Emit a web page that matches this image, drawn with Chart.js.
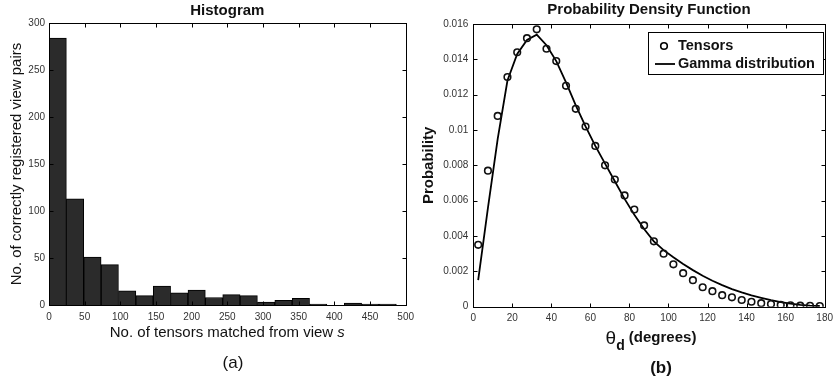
<!DOCTYPE html>
<html lang="en">
<head>
    <meta charset="UTF-8">
    <title>Histogram and PDF</title>
    <script src="https://cdn.jsdelivr.net/npm/chart.js@4.4.0/dist/chart.umd.min.js"></script>
    <style>
        html, body { margin: 0; padding: 0; background: #fff; }
        .wrap { position: relative; width: 839px; height: 385px; overflow: hidden; }
        .panel { position: absolute; top: 0; }
    </style>
</head>
<body>
    <div class="wrap">
        <div class="panel" style="left:0"><canvas id="histChart" width="420" height="385"></canvas></div>
        <div class="panel" style="left:420px"><canvas id="pdfChart" width="419" height="385"></canvas></div>
    </div>

    <script>
        // histogram (a): 20 bins over 0..487
        const binCenters = [12.2, 36.5, 60.9, 85.2, 109.6, 133.9, 158.3, 182.6, 207.0, 231.3,
                            255.7, 280.0, 304.4, 328.7, 353.1, 377.4, 401.8, 426.1, 450.5, 474.8];
        const binCounts = [284, 113, 51, 43, 15, 10, 20, 13, 16, 8,
                           11, 10, 3, 5, 7, 1, 0, 2, 1, 1];

        // pdf (b)
        const angles = [2.5, 7.5, 12.5, 17.5, 22.5, 27.5, 32.5, 37.5, 42.5, 47.5, 52.5, 57.5,
                        62.5, 67.5, 72.5, 77.5, 82.5, 87.5, 92.5, 97.5, 102.5, 107.5, 112.5, 117.5,
                        122.5, 127.5, 132.5, 137.5, 142.5, 147.5, 152.5, 157.5, 162.5, 167.5, 172.5, 177.5];
        const tensorProb = [0.0035, 0.0077, 0.0108, 0.0130, 0.0144, 0.0152, 0.0157, 0.0146, 0.0139, 0.0125, 0.0112, 0.0102,
                            0.0091, 0.0080, 0.0072, 0.0063, 0.0055, 0.0046, 0.0037, 0.0030, 0.0024, 0.0019, 0.0015, 0.0011,
                            0.00088, 0.00065, 0.00053, 0.00038, 0.00028, 0.0002, 0.00015, 0.0001, 0.00008, 0.00006, 0.00005, 0.00004];
        const gammaProb = [0.0015, 0.0056, 0.0095, 0.0128, 0.0143, 0.0151, 0.0154, 0.0148, 0.0139, 0.0127, 0.0114, 0.0102,
                           0.0091, 0.0081, 0.0071, 0.0061, 0.0052, 0.0044, 0.0037, 0.0032, 0.0028, 0.00242, 0.00207, 0.00175,
                           0.00147, 0.00122, 0.0010, 0.00081, 0.00064, 0.0005, 0.00037, 0.00026, 0.00017, 0.0001, 0.00006, 0.00004];

        const FONT = '"Liberation Sans", Arial, Helvetica, sans-serif';
        Chart.defaults.font.family = FONT;
        Chart.defaults.color = '#222';

        // matlab-like box with inward ticks
        const frame = {
            id: 'frame',
            afterDatasetsDraw(chart) {
                const {ctx, chartArea: a, scales: {x, y}} = chart;
                const L = Math.round(a.left) + 0.5, R = Math.round(a.right) + 0.5;
                const T = Math.round(a.top) + 0.5, B = Math.round(a.bottom) + 0.5;
                ctx.save();
                ctx.strokeStyle = '#000';
                ctx.lineWidth = 1;
                ctx.strokeRect(L, T, R - L, B - T);
                ctx.beginPath();
                x.ticks.forEach(t => {
                    const px = Math.round(x.getPixelForValue(t.value)) + 0.5;
                    ctx.moveTo(px, B); ctx.lineTo(px, B - 4);
                    ctx.moveTo(px, T); ctx.lineTo(px, T + 4);
                });
                y.ticks.forEach(t => {
                    const py = Math.round(y.getPixelForValue(t.value)) + 0.5;
                    ctx.moveTo(L, py); ctx.lineTo(L + 4, py);
                    ctx.moveTo(R, py); ctx.lineTo(R - 4, py);
                });
                ctx.stroke();
                ctx.restore();
            }
        };

        // panel captions (a) / (b)
        const caption = {
            id: 'caption',
            afterDraw(chart, args, opts) {
                const ctx = chart.ctx;
                ctx.save();
                ctx.fillStyle = '#111';
                ctx.textAlign = 'center';
                ctx.textBaseline = 'middle';
                ctx.font = opts.font + ' ' + FONT;
                ctx.fillText(opts.text, opts.x, opts.y);
                ctx.restore();
            }
        };

        const histXTitle = {
            id: 'histXTitle',
            afterDraw(chart) {
                const ctx = chart.ctx;
                const a = chart.chartArea;
                const t1 = 'No. of tensors matched from view ';
                ctx.save();
                ctx.fillStyle = '#111';
                ctx.textBaseline = 'middle';
                ctx.font = '15px ' + FONT;
                const w1 = ctx.measureText(t1).width;
                ctx.font = 'italic 15px ' + FONT;
                const w2 = ctx.measureText('s').width;
                const x0 = (a.left + a.right) / 2 - (w1 + w2) / 2;
                ctx.font = '15px ' + FONT;
                ctx.fillText(t1, x0, 333);
                ctx.font = 'italic 15px ' + FONT;
                ctx.fillText('s', x0 + w1, 333);
                ctx.restore();
            }
        };

        const pdfXTitle = {
            id: 'pdfXTitle',
            afterDraw(chart) {
                const ctx = chart.ctx;
                const a = chart.chartArea;
                ctx.save();
                ctx.fillStyle = '#111';
                ctx.textBaseline = 'middle';
                ctx.font = '19px ' + FONT;
                const wTh = ctx.measureText('θ').width;
                ctx.font = 'bold 14px ' + FONT;
                const wD = ctx.measureText('d').width;
                ctx.font = 'bold 15px ' + FONT;
                const wRest = ctx.measureText(' (degrees)').width;
                let x0 = (a.left + a.right) / 2 - (wTh + wD + wRest) / 2 + 2;
                ctx.font = '19px ' + FONT;
                ctx.fillText('θ', x0, 339);
                ctx.font = 'bold 14px ' + FONT;
                ctx.fillText('d', x0 + wTh, 346);
                ctx.font = 'bold 15px ' + FONT;
                ctx.fillText(' (degrees)', x0 + wTh + wD, 338);
                ctx.restore();
            }
        };

        const pdfLegend = {
            id: 'pdfLegend',
            afterDraw(chart) {
                const ctx = chart.ctx;
                ctx.save();
                ctx.fillStyle = '#fff';
                ctx.fillRect(228.5, 32.5, 175, 42);
                ctx.strokeStyle = '#000';
                ctx.lineWidth = 1;
                ctx.strokeRect(228.5, 32.5, 175, 42);
                ctx.lineWidth = 1.6;
                ctx.beginPath();
                ctx.arc(244, 46, 3.3, 0, Math.PI * 2);
                ctx.stroke();
                ctx.lineWidth = 1.8;
                ctx.beginPath();
                ctx.moveTo(235, 64); ctx.lineTo(255, 64);
                ctx.stroke();
                ctx.fillStyle = '#111';
                ctx.textBaseline = 'middle';
                ctx.font = 'bold 14.5px ' + FONT;
                ctx.fillText('Tensors', 258, 46);
                ctx.fillText('Gamma distribution', 258, 64);
                ctx.restore();
            }
        };

        const tickFont = {size: 10};

        new Chart('histChart', {
            type: 'bar',
            data: {
                datasets: [{
                    data: binCenters.map((c, i) => ({x: c, y: binCounts[i]})),
                    backgroundColor: '#2b2b2b',
                    borderColor: '#000',
                    borderWidth: 1,
                    barPercentage: 1,
                    categoryPercentage: 1
                }]
            },
            options: {
                responsive: false,
                animation: false,
                layout: {padding: {left: 0, right: 14, top: 0, bottom: 0}},
                plugins: {
                    legend: {display: false},
                    tooltip: {enabled: false},
                    title: {display: true, fullSize: false, text: 'Histogram', color: '#111',
                            font: {size: 15, weight: 'bold'}, padding: {top: 2, bottom: 3}},
                    caption: {text: '(a)', font: '17px', x: 233, y: 363}
                },
                scales: {
                    x: {
                        type: 'linear', min: 0, max: 500, offset: false,
                        afterFit(s) { s.height = 80; },
                        grid: {display: false, drawTicks: false, offset: false},
                        border: {display: false},
                        ticks: {stepSize: 50, autoSkip: false, maxRotation: 0, padding: 6, color: '#333', font: tickFont}
                    },
                    y: {
                        min: 0, max: 300,
                        afterFit(s) { s.width = 49; },
                        grid: {display: false, drawTicks: false},
                        border: {display: false},
                        ticks: {stepSize: 50, padding: 4, color: '#333', font: tickFont},
                        title: {display: true, text: 'No. of correctly registered view pairs', color: '#111',
                                font: {size: 15}, padding: {top: 8, bottom: 0}}
                    }
                }
            },
            plugins: [frame, histXTitle, caption]
        });

        new Chart('pdfChart', {
            type: 'scatter',
            data: {
                datasets: [{
                    label: 'Tensors',
                    data: angles.map((a, i) => ({x: a, y: tensorProb[i]})),
                    showLine: false,
                    pointStyle: 'circle',
                    pointRadius: 3.3,
                    pointBorderWidth: 1.6,
                    pointBorderColor: '#111',
                    pointBackgroundColor: 'rgba(0,0,0,0)'
                }, {
                    label: 'Gamma distribution',
                    data: angles.map((a, i) => ({x: a, y: gammaProb[i]})),
                    showLine: true,
                    borderColor: '#000',
                    borderWidth: 1.8,
                    pointRadius: 0,
                    tension: 0
                }]
            },
            options: {
                responsive: false,
                animation: false,
                layout: {padding: {left: 0, right: 11.7, top: 0, bottom: 0}},
                plugins: {
                    legend: {display: false},
                    tooltip: {enabled: false},
                    title: {display: true, fullSize: false, text: 'Probability Density Function', color: '#111',
                            font: {size: 15, weight: 'bold'}, padding: {top: 1, bottom: 5}},
                    caption: {text: '(b)', font: 'bold 17px', x: 241, y: 368}
                },
                scales: {
                    x: {
                        type: 'linear', min: 0, max: 180,
                        afterFit(s) { s.height = 78.3; },
                        grid: {display: false, drawTicks: false},
                        border: {display: false},
                        ticks: {stepSize: 20, autoSkip: false, maxRotation: 0, padding: 6, color: '#333', font: tickFont}
                    },
                    y: {
                        min: 0, max: 0.016,
                        afterFit(s) { s.width = 53.3; },
                        grid: {display: false, drawTicks: false},
                        border: {display: false},
                        ticks: {stepSize: 0.002, padding: 5, color: '#333', font: tickFont,
                                callback: v => String(+v.toFixed(4))},
                        title: {display: true, text: 'Probability', color: '#111',
                                font: {size: 15, weight: 'bold'}, padding: {top: 0, bottom: 0}}
                    }
                }
            },
            plugins: [frame, pdfXTitle, pdfLegend, caption]
        });
    </script>
</body>
</html>
